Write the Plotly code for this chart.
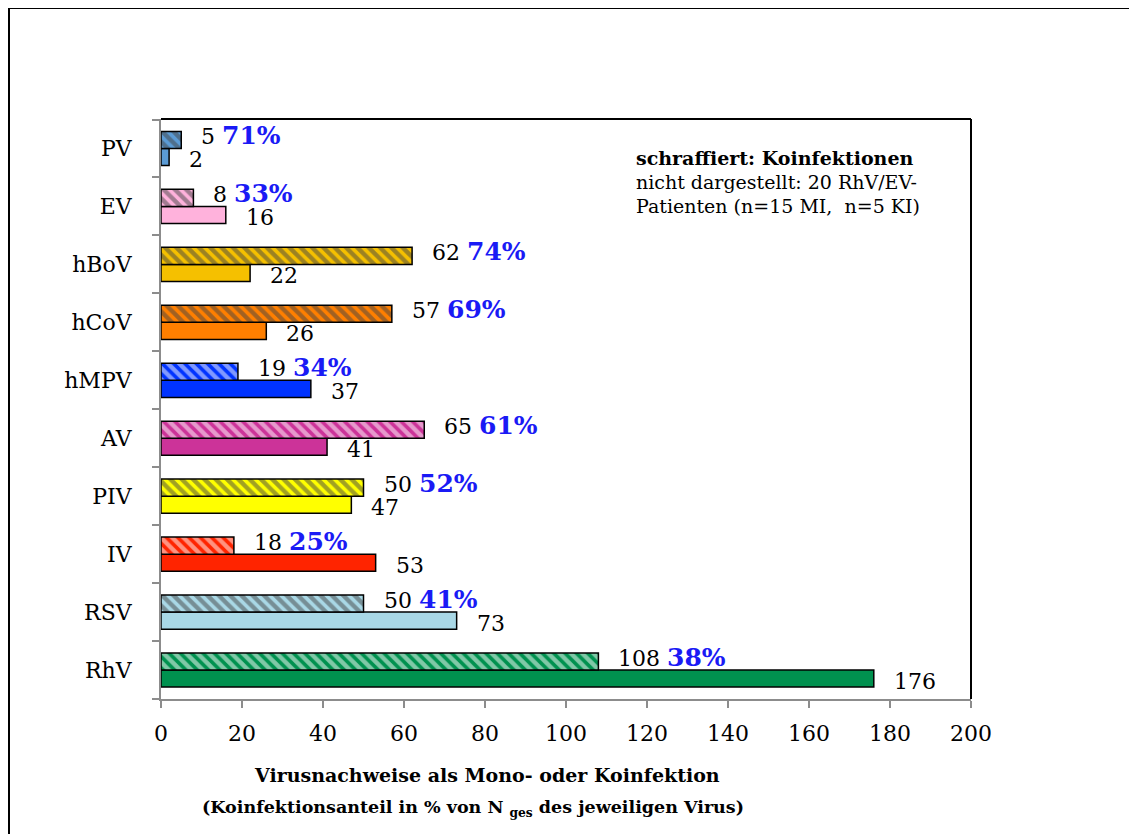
import plotly.graph_objects as go

# Viren von unten nach oben (Plotly zeichnet Kategorie 0 unten)
viren = ["RhV", "RSV", "IV", "PIV", "AV", "hMPV", "hCoV", "hBoV", "EV", "PV"]
mono = [176, 73, 53, 47, 41, 37, 26, 22, 16, 2]
koinfektion = [108, 50, 18, 50, 65, 19, 57, 62, 8, 5]
koinf_anteil = [38, 41, 25, 52, 61, 34, 69, 74, 33, 71]
farben = ["#00914F", "#A9D8E6", "#FF2400", "#FFFF00", "#CC3399",
          "#0033FF", "#FF7F00", "#F5C000", "#FFB2DC", "#5B9BD5"]
x_ticks = list(range(0, 201, 20))

SERIF = "DejaVu Serif"
BLUE = "#1A1AF5"

fig = go.Figure()

# Monoinfektionen (einfarbig) - erste Spur liegt unten in der Gruppe
fig.add_trace(go.Bar(
    y=viren, x=mono, orientation="h", name="Monoinfektion",
    marker=dict(color=farben, line=dict(color="black", width=1.5)),
))

# Koinfektionen (schraffiert)
fig.add_trace(go.Bar(
    y=viren, x=koinfektion, orientation="h", name="Koinfektion",
    marker=dict(
        color=farben, line=dict(color="black", width=1.5),
        pattern=dict(shape="\\", fgcolor="black", fillmode="overlay",
                     size=8, solidity=0.55),
    ),
))

# Beschriftungen rechts neben den Balken
for v, m, k, p in zip(viren, mono, koinfektion, koinf_anteil):
    fig.add_annotation(
        x=k, y=v, xref="x", yref="y", xanchor="left", yanchor="middle",
        xshift=18, yshift=13, showarrow=False,
        text=(f"{k} <span style='color:{BLUE};font-size:25px'>"
              f"<b>{p}%</b></span>"),
        font=dict(family=SERIF, size=22, color="black"),
    )
    fig.add_annotation(
        x=m, y=v, xref="x", yref="y", xanchor="left", yanchor="middle",
        xshift=18, yshift=-11, showarrow=False, text=str(m),
        font=dict(family=SERIF, size=22, color="black"),
    )

# Hinweistext oben rechts (Angaben in Seitenpixeln)
hinweis = [
    ("<b>schraffiert: Koinfektionen</b>", 158),
    ("nicht dargestellt: 20 RhV/EV-", 182),
    ("Patienten (n=15 MI,  n=5 KI)", 206),
]
for txt, ypix in hinweis:
    fig.add_annotation(
        x=634, y=ypix, xref="paper", yref="paper", showarrow=False,
        xanchor="left", yanchor="middle", text=txt,
        font=dict(family=SERIF, size=19, color="black"),
    )

# Achsentitel (zweizeilig, etwas links von der Mitte)
fig.add_annotation(
    x=487, y=775, xref="paper", yref="paper", showarrow=False,
    xanchor="center", yanchor="middle",
    text="<b>Virusnachweise als Mono- oder Koinfektion</b>",
    font=dict(family=SERIF, size=19, color="black"),
)
fig.add_annotation(
    x=473, y=808, xref="paper", yref="paper", showarrow=False,
    xanchor="center", yanchor="middle",
    text="<b>(Koinfektionsanteil in % von N <sub>ges</sub> des jeweiligen Virus)</b>",
    font=dict(family=SERIF, size=17.5, color="black"),
)

# Seite hat 8 px Rand -> Abbildung um 8 px kleiner, Ränder entsprechend
OFF = 8
W, H = 1137 - OFF, 834 - OFF
L, T = 161 - OFF, 119 - OFF
pw, ph = 810, 580
R, B = W - L - pw, H - T - ph


def px_to_paper(xp, yp):
    return (xp - OFF - L) / pw, (T + ph - (yp - OFF)) / ph


for a in fig.layout.annotations:
    if a.xref == "paper":
        a.x, a.y = px_to_paper(a.x, a.y)

bx0, by1 = px_to_paper(9, 8)
bx1, by0 = px_to_paper(1200, 900)

fig.update_layout(
    width=W, height=H,
    margin=dict(l=L, r=R, t=T, b=B),
    barmode="group", bargap=0.41, bargroupgap=0,
    showlegend=False,
    plot_bgcolor="white", paper_bgcolor="white",
    font=dict(family=SERIF, size=22, color="black"),
    xaxis=dict(
        range=[0, 200], tickvals=x_ticks, showgrid=False, zeroline=False,
        showline=True, linecolor="#8C8C8C", linewidth=2,
        ticks="outside", ticklen=7, tickcolor="#8C8C8C", tickwidth=2,
        ticklabelstandoff=7,
        tickfont=dict(family=SERIF, size=22, color="black"),
    ),
    yaxis=dict(
        showgrid=False, zeroline=False,
        showline=True, linecolor="#8C8C8C", linewidth=2,
        ticks="outside", ticklen=7, tickcolor="#8C8C8C", tickwidth=2,
        tickson="boundaries", ticklabelstandoff=23,
        tickfont=dict(family=SERIF, size=22, color="black"),
    ),
    shapes=[
        # obere und rechte Rahmenlinie des Diagrammbereichs
        dict(type="line", xref="x domain", yref="y domain",
             x0=0, x1=1, y0=1, y1=1, line=dict(color="black", width=2)),
        dict(type="line", xref="x domain", yref="y domain",
             x0=1, x1=1, y0=0, y1=1, line=dict(color="black", width=2)),
        # äußerer Rahmen
        dict(type="rect", xref="paper", yref="paper",
             x0=bx0, x1=bx1, y0=by0, y1=by1,
             line=dict(color="black", width=2)),
    ],
)

fig.write_html("out.html")
